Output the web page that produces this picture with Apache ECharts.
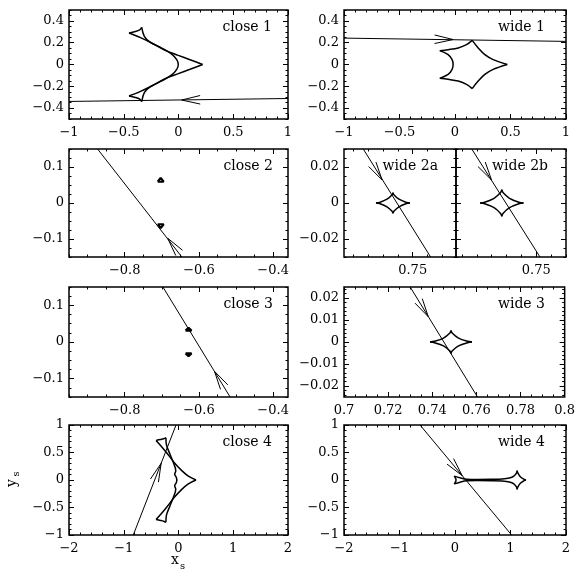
<!DOCTYPE html>
<html>
<head>
<meta charset="utf-8">
<script src="https://cdn.jsdelivr.net/npm/echarts@6/dist/echarts.min.js"></script>
<style>
  html, body { margin: 0; padding: 0; background: #fff; }
  #chart { width: 578px; height: 572px; }
</style>
</head>
<body>
<div id="chart"></div>
<script>
// tick labels (major ticks) for each kind of panel
const ticks1X = [-1, -0.5, 0, 0.5, 1];
const ticks1Y = [-0.4, -0.2, 0, 0.2, 0.4];
const ticks23X = [-0.8, -0.6, -0.4];
const ticks23Y = [-0.1, 0, 0.1];
const ticksW2X = [0.75];
const ticksW2Y = [-0.02, 0, 0.02];
const ticksW3X = [0.7, 0.72, 0.74, 0.76, 0.78, 0.8];
const ticksW3Y = [-0.02, -0.01, 0, 0.01, 0.02];
const ticks4X = [-2, -1, 0, 1, 2];
const ticks4Y = [-1, -0.5, 0, 0.5, 1];

// caustic curves, one array per edge (cusp to cusp)
const close1Caustic = [
  [[0.22, 0], [0.105, 0.044], [-0.002, 0.084], [-0.123, 0.13], [-0.245, 0.197], [-0.352, 0.249], [-0.452, 0.289]],
  [[-0.452, 0.289], [-0.395, 0.302], [-0.355, 0.318], [-0.336, 0.341]],
  [[-0.336, 0.341], [-0.312, 0.259], [-0.26, 0.206], [-0.153, 0.151], [-0.062, 0.096], [-0.016, 0.044], [-0.002, 0],
   [-0.016, -0.044], [-0.062, -0.096], [-0.153, -0.151], [-0.26, -0.206], [-0.312, -0.259], [-0.336, -0.341]],
  [[-0.336, -0.341], [-0.355, -0.318], [-0.395, -0.302], [-0.452, -0.289]],
  [[-0.452, -0.289], [-0.352, -0.249], [-0.245, -0.197], [-0.123, -0.13], [-0.002, -0.084], [0.105, -0.044], [0.22, 0]]
];
const wide1Caustic = [
  [[0.155, 0.221], [0.209, 0.152], [0.269, 0.091], [0.344, 0.045], [0.471, 0]],
  [[0.471, 0], [0.344, -0.045], [0.269, -0.091], [0.209, -0.152], [0.155, -0.221]],
  [[0.155, -0.221], [0.104, -0.182], [0.029, -0.152], [-0.062, -0.136], [-0.137, -0.127]],
  [[-0.137, -0.127], [-0.062, -0.091], [-0.026, -0.045], [-0.017, 0], [-0.026, 0.045], [-0.062, 0.091], [-0.137, 0.127]],
  [[-0.137, 0.127], [-0.062, 0.136], [0.029, 0.152], [0.104, 0.182], [0.155, 0.221]]
];
const close2Caustic = [
  [[-0.711, 0.059], [-0.703, 0.07], [-0.695, 0.059], [-0.711, 0.059]],
  [[-0.711, -0.059], [-0.703, -0.07], [-0.695, -0.059], [-0.711, -0.059]]
];
const wide2aCaustic = [
  [[0.7254, 0], [0.7278, 0.0003], [0.7328, 0.0021], [0.7362, 0.0046], [0.7368, 0.0058]],
  [[0.7368, 0.0058], [0.7374, 0.0046], [0.7408, 0.0021], [0.7458, 0.0003], [0.7482, 0]],
  [[0.7482, 0], [0.7458, -0.0003], [0.7408, -0.0021], [0.7374, -0.0046], [0.7368, -0.0058]],
  [[0.7368, -0.0058], [0.7362, -0.0046], [0.7328, -0.0021], [0.7278, -0.0003], [0.7254, 0]]
];
const wide2bCaustic = [
  [[0.7122, 0], [0.7153, 0.0004], [0.7216, 0.0026], [0.726, 0.0058], [0.7268, 0.0074]],
  [[0.7268, 0.0074], [0.7276, 0.0058], [0.732, 0.0026], [0.7383, 0.0004], [0.7414, 0]],
  [[0.7414, 0], [0.7383, -0.0004], [0.732, -0.0026], [0.7276, -0.0058], [0.7268, -0.0074]],
  [[0.7268, -0.0074], [0.726, -0.0058], [0.7216, -0.0026], [0.7153, -0.0004], [0.7122, 0]]
];
const close3Caustic = [
  [[-0.636, 0.031], [-0.628, 0.039], [-0.62, 0.031], [-0.636, 0.031]],
  [[-0.636, -0.031], [-0.628, -0.039], [-0.62, -0.031], [-0.636, -0.031]]
];
const wide3Caustic = [
  [[0.739, 0], [0.741, 0.0003], [0.7451, 0.0018], [0.748, 0.0041], [0.7485, 0.0052]],
  [[0.7485, 0.0052], [0.749, 0.0041], [0.7519, 0.0018], [0.756, 0.0003], [0.758, 0]],
  [[0.758, 0], [0.756, -0.0003], [0.7519, -0.0018], [0.749, -0.0041], [0.7485, -0.0052]],
  [[0.7485, -0.0052], [0.748, -0.0041], [0.7451, -0.0018], [0.741, -0.0003], [0.739, 0]]
];
const close4Caustic = [
  [[0.32, 0], [0.18, 0.07], [0.06, 0.17], [-0.08, 0.32], [-0.22, 0.5], [-0.32, 0.62], [-0.41, 0.72]],
  [[-0.41, 0.72], [-0.33, 0.735], [-0.27, 0.75], [-0.23, 0.77]],
  [[-0.23, 0.77], [-0.22, 0.64], [-0.16, 0.48], [-0.1, 0.33], [-0.05, 0.17], [-0.07, 0.1], [-0.045, 0.06], [-0.03, 0],
   [-0.045, -0.06], [-0.07, -0.1], [-0.05, -0.17], [-0.1, -0.33], [-0.16, -0.48], [-0.22, -0.64], [-0.23, -0.77]],
  [[-0.23, -0.77], [-0.27, -0.75], [-0.33, -0.735], [-0.41, -0.72]],
  [[-0.41, -0.72], [-0.32, -0.62], [-0.22, -0.5], [-0.08, -0.32], [0.06, -0.17], [0.18, -0.07], [0.32, 0]]
];
const wide4Caustic = [
  [[1.28, 0], [1.246, 0.01], [1.177, 0.06], [1.129, 0.134], [1.12, 0.17]],
  [[1.12, 0.17], [1.11, 0.13], [1.06, 0.07], [0.98, 0.035], [0.85, 0.018], [0.65, 0.012], [0.4, 0.01], [0.21, 0.015], [0.09, 0.04], [-0.015, 0.07]],
  [[-0.015, 0.07], [0.012, 0.03], [0.018, 0], [0.012, -0.03], [-0.015, -0.07]],
  [[-0.015, -0.07], [0.09, -0.04], [0.21, -0.015], [0.4, -0.01], [0.65, -0.012], [0.85, -0.018], [0.98, -0.035], [1.06, -0.07], [1.11, -0.13], [1.12, -0.17]],
  [[1.12, -0.17], [1.129, -0.134], [1.177, -0.06], [1.246, -0.01], [1.28, 0]]
];

// source tracks: [start, end] in the direction of motion, and the arrow tip
const close1Track = [[1, -0.312], [-1, -0.339]];
const close1Arrow = [0.029, -0.326];
const wide1Track = [[-1, 0.242], [1, 0.212]];
const wide1Arrow = [-0.017, 0.229];
const close2Track = [[-0.646, -0.15], [-0.873, 0.15]];
const close2Arrow = [-0.684, -0.098];
const wide2aTrack = [[0.7169, 0.03], [0.762, -0.03]];
const wide2aArrow = [0.7295, 0.0128];
const wide2bTrack = [[0.7066, 0.03], [0.7525, -0.03]];
const wide2bArrow = [0.7199, 0.0128];
const close3Track = [[-0.516, -0.15], [-0.697, 0.15]];
const close3Arrow = [-0.558, -0.08];
const wide3Track = [[0.73, 0.025], [0.7605, -0.025]];
const wide3Arrow = [0.7382, 0.0115];
const close4Track = [[-0.826, -1], [-0.045, 1]];
const close4Arrow = [-0.317, 0.303];
const wide4Track = [[-0.63, 1], [1.02, -1]];
const wide4Arrow = [0.129, 0.08];

const panels = [
  { title: 'close 1', box: [69, 10, 219, 109], xr: [-1, 1], yr: [-0.5, 0.5], xt: ticks1X, yt: ticks1Y, xm: 0.1, ym: 0.05,
    caustic: close1Caustic, track: close1Track, arrow: close1Arrow, smooth: true },
  { title: 'wide 1', box: [344, 10, 222, 109], xr: [-1, 1], yr: [-0.5, 0.5], xt: ticks1X, yt: ticks1Y, xm: 0.1, ym: 0.05,
    caustic: wide1Caustic, track: wide1Track, arrow: wide1Arrow, smooth: true },
  { title: 'close 2', box: [69, 149, 219, 108], xr: [-0.95, -0.36], yr: [-0.15, 0.15], xt: ticks23X, yt: ticks23Y, xm: 0.05, ym: 0.025,
    caustic: close2Caustic, track: close2Track, arrow: close2Arrow, smooth: false },
  { title: 'wide 2a', box: [344, 149, 112, 108], xr: [0.704, 0.779], yr: [-0.03, 0.03], xt: ticksW2X, yt: ticksW2Y, xm: 0.01, ym: 0.005,
    caustic: wide2aCaustic, track: wide2aTrack, arrow: wide2aArrow, smooth: true },
  { title: 'wide 2b', box: [456, 149, 110, 108], xr: [0.696, 0.77], yr: [-0.03, 0.03], xt: ticksW2X, yt: ticksW2Y, xm: 0.01, ym: 0.005,
    caustic: wide2bCaustic, track: wide2bTrack, arrow: wide2bArrow, smooth: true, noYLabels: true },
  { title: 'close 3', box: [69, 287, 219, 110], xr: [-0.95, -0.36], yr: [-0.15, 0.15], xt: ticks23X, yt: ticks23Y, xm: 0.05, ym: 0.025,
    caustic: close3Caustic, track: close3Track, arrow: close3Arrow, smooth: false },
  { title: 'wide 3', box: [344, 287, 222, 110], xr: [0.7, 0.8], yr: [-0.025, 0.025], xt: ticksW3X, yt: ticksW3Y, xm: 0.005, ym: 0.002,
    caustic: wide3Caustic, track: wide3Track, arrow: wide3Arrow, smooth: true },
  { title: 'close 4', box: [69, 425, 219, 110], xr: [-2, 2], yr: [-1, 1], xt: ticks4X, yt: ticks4Y, xm: 0.2, ym: 0.1,
    caustic: close4Caustic, track: close4Track, arrow: close4Arrow, smooth: true },
  { title: 'wide 4', box: [344, 425, 222, 110], xr: [-2, 2], yr: [-1, 1], xt: ticks4X, yt: ticks4Y, xm: 0.2, ym: 0.1,
    caustic: wide4Caustic, track: wide4Track, arrow: wide4Arrow, smooth: true }
];

const W = 578;
const tickFont = { fontFamily: 'DejaVu Serif', fontSize: 13, color: '#000' };

function minorTicks(lo, hi, step) {
  const out = [];
  for (let k = Math.ceil(lo / step - 1e-9); k * step <= hi + 1e-9; k++) {
    out.push(Math.round(k * step * 1e6) / 1e6);
  }
  return out;
}
function fmt(v) {
  return String(v).replace('-', '\u2212');
}

function makeAxis(gi, range, pos, values, len, withLabels, isX) {
  return {
    type: 'value', gridIndex: gi, position: pos, min: range[0], max: range[1],
    axisLine: { show: false, onZero: false },
    splitLine: { show: false },
    axisTick: { show: true, inside: true, length: len, customValues: values, lineStyle: { color: '#000', width: 1 } },
    axisLabel: withLabels
      ? Object.assign({ show: true, customValues: values, formatter: fmt, margin: isX ? 7 : 5,
          hideOverlap: false, showMinLabel: true, showMaxLabel: true }, tickFont)
      : { show: false }
  };
}

const grid = [], xAxis = [], yAxis = [], series = [], title = [];

panels.forEach((p, gi) => {
  grid.push({ left: p.box[0], top: p.box[1], width: p.box[2], height: p.box[3],
    show: true, borderColor: '#000', borderWidth: 1.5, backgroundColor: 'transparent' });
  const xMinor = minorTicks(p.xr[0], p.xr[1], p.xm);
  const yMinor = minorTicks(p.yr[0], p.yr[1], p.ym);
  xAxis.push(makeAxis(gi, p.xr, 'bottom', p.xt, 5, true, true));
  xAxis.push(makeAxis(gi, p.xr, 'top', p.xt, 5, false, true));
  xAxis.push(makeAxis(gi, p.xr, 'bottom', xMinor, 2.5, false, true));
  xAxis.push(makeAxis(gi, p.xr, 'top', xMinor, 2.5, false, true));
  yAxis.push(makeAxis(gi, p.yr, 'left', p.yt, 5, !p.noYLabels, false));
  yAxis.push(makeAxis(gi, p.yr, 'right', p.yt, 5, false, false));
  yAxis.push(makeAxis(gi, p.yr, 'left', yMinor, 2.5, false, false));
  yAxis.push(makeAxis(gi, p.yr, 'right', yMinor, 2.5, false, false));
  const ax = gi * 4;

  p.caustic.forEach(edge => {
    series.push({
      type: 'line', xAxisIndex: ax, yAxisIndex: ax, data: edge,
      smooth: p.smooth ? 0.35 : false, symbol: 'none', silent: true,
      lineStyle: { color: '#000', width: p.smooth ? 1.5 : 2.2 }
    });
  });

  series.push({
    type: 'line', xAxisIndex: ax, yAxisIndex: ax, data: p.track,
    symbol: 'none', silent: true, lineStyle: { color: '#000', width: 1 }
  });

  series.push({
    type: 'custom', xAxisIndex: ax, yAxisIndex: ax, data: [p.arrow], silent: true,
    renderItem: function (params, api) {
      const tip = api.coord([api.value(0), api.value(1)]);
      const a = api.coord(p.track[0]);
      const b = api.coord(p.track[1]);
      let dx = b[0] - a[0], dy = b[1] - a[1];
      const n = Math.hypot(dx, dy);
      dx /= n; dy /= n;
      const L = 19, ang = 13 * Math.PI / 180;
      const c = Math.cos(ang), s = Math.sin(ang);
      const w1 = [tip[0] - L * (dx * c - dy * s), tip[1] - L * (dx * s + dy * c)];
      const w2 = [tip[0] - L * (dx * c + dy * s), tip[1] - L * (-dx * s + dy * c)];
      return {
        type: 'polyline',
        shape: { points: [w1, tip, w2] },
        style: { stroke: '#000', fill: 'none', lineWidth: 1 }
      };
    }
  });

  const textRight = { 'close 1': 272, 'wide 1': 545, 'close 2': 273, 'wide 2a': 438, 'wide 2b': 548,
    'close 3': 273, 'wide 3': 545, 'close 4': 272, 'wide 4': 545 }[p.title];
  title.push({
    text: p.title, right: W - textRight, top: p.box[1] + 10, padding: 0,
    textStyle: { fontFamily: 'DejaVu Serif', fontSize: 14, fontWeight: 'normal', color: '#000' }
  });
});

var myChart = echarts.init(document.getElementById('chart'));
myChart.setOption({
  animation: false,
  backgroundColor: '#fff',
  title: title,
  grid: grid,
  xAxis: xAxis,
  yAxis: yAxis,
  series: series,
  graphic: [
    { type: 'text', x: 175, y: 560, style: { text: 'x', font: '14px "DejaVu Serif"', fill: '#000', textAlign: 'center', textVerticalAlign: 'middle' } },
    { type: 'text', x: 182.5, y: 566, style: { text: 's', font: '10px "DejaVu Serif"', fill: '#000', textAlign: 'center', textVerticalAlign: 'middle' } },
    { type: 'text', x: 12, y: 483, rotation: Math.PI / 2, style: { text: 'y', font: '14px "DejaVu Serif"', fill: '#000', textAlign: 'center', textVerticalAlign: 'middle' } },
    { type: 'text', x: 16, y: 474, rotation: Math.PI / 2, style: { text: 's', font: '10px "DejaVu Serif"', fill: '#000', textAlign: 'center', textVerticalAlign: 'middle' } }
  ]
});
</script>
</body>
</html>
